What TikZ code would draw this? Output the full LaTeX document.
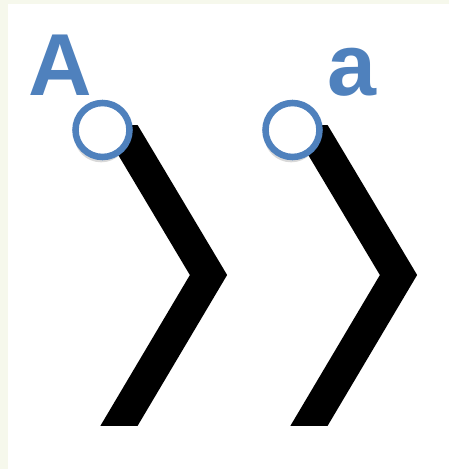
\documentclass[tikz,border=0pt]{standalone}
\usepackage{fontspec}
\setmainfont{Liberation Sans}
\usepackage{xcolor}
\usetikzlibrary{shadows}

\definecolor{accblue}{RGB}{79,129,189}
\definecolor{paper}{RGB}{246,248,236}

\begin{document}
\begin{tikzpicture}[
  x=0.75pt, y=-0.75pt,
  ring/.style={circle, draw=accblue, line width=4.9pt, fill=white, minimum size=40.5pt, inner sep=0pt,
    drop shadow={shadow xshift=-1pt, shadow yshift=-4pt, opacity=0.15, fill=black}},
  letter/.style={anchor=base west, inner sep=0pt, text=accblue, font=\fontsize{66}{66}\selectfont\bfseries},
  chevron/.style={line width=24pt, line join=miter, line cap=butt}
]
\useasboundingbox (0,0) rectangle (449,469);
\fill[white] (0,0) rectangle (449,469);
\fill[paper] (0,0) rectangle (8,469);
\fill[paper] (0,0) rectangle (449,3.5);

% bends
\coordinate (startA) at (113,115);
\coordinate (tipA) at (208.5,275);
\coordinate (endA) at (110.6,440);
\coordinate (starta) at (303,115);
\coordinate (tipa) at (398.5,275);
\coordinate (enda) at (300.6,440);
\begin{scope}
  \clip (0,125) rectangle (449,425);
  \draw[chevron] (startA) -- (tipA) -- (endA);
  \draw[chevron] (starta) -- (tipa) -- (enda);
\end{scope}

% end rings and labels
\node[ring] (ringA) at (102.5,130) {};
\node[ring] (ringa) at (292.5,130) {};
\node[letter] (labA) at (28,95) {A};
\node[letter] (laba) at (327,95) {a};
\end{tikzpicture}
\end{document}
